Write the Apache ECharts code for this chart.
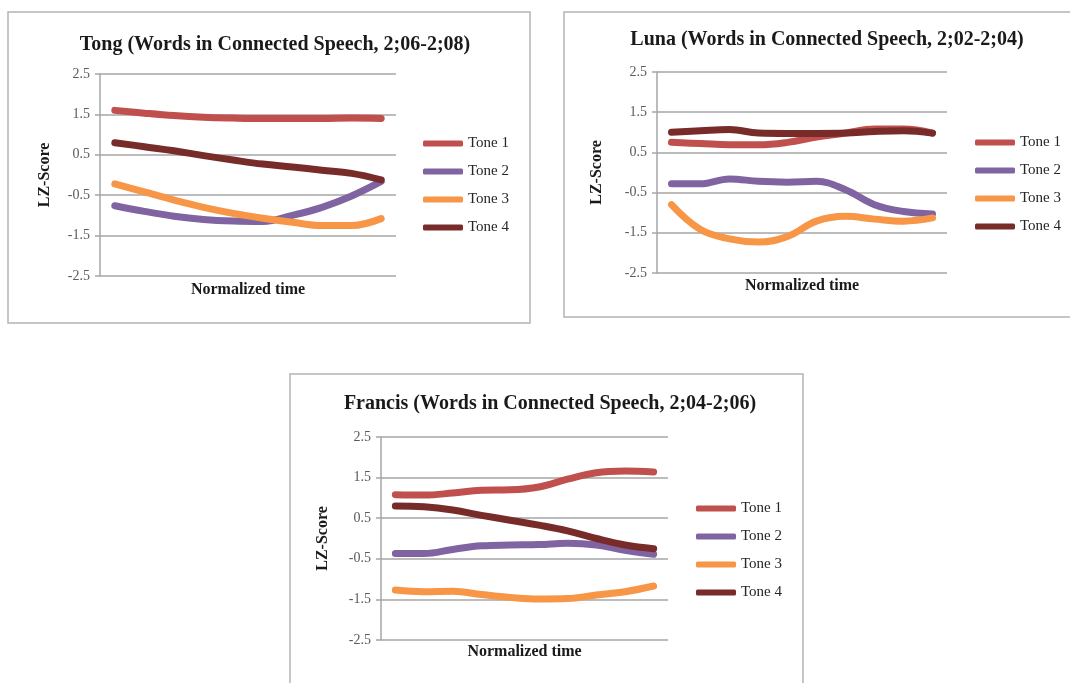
<!DOCTYPE html>
<html>
<head>
<meta charset="utf-8">
<title>LZ-Score by tone</title>
<script src="https://cdn.jsdelivr.net/npm/echarts@6/dist/echarts.min.js"></script>
<style>
    html, body { margin: 0; padding: 0; background: #fff; }
    #main { width: 1070px; height: 683px; }
</style>
</head>
<body>
<div id="main"></div>
<script>
// normalized time steps (10 per contour)
var timeSteps = ['1', '2', '3', '4', '5', '6', '7', '8', '9', '10'];
var toneNames = ['Tone 1', 'Tone 2', 'Tone 3', 'Tone 4'];
var toneColors = ['#c0504d', '#8064a2', '#f79646', '#772c2a'];
var chartTitles = [
    'Tong (Words in Connected Speech, 2;06-2;08)',
    'Luna (Words in Connected Speech, 2;02-2;04)',
    'Francis (Words in Connected Speech, 2;04-2;06)'
];

// Tong
var tongTone1 = [1.60, 1.53, 1.47, 1.43, 1.41, 1.40, 1.40, 1.40, 1.41, 1.40];
var tongTone2 = [-0.76, -0.90, -1.02, -1.10, -1.14, -1.15, -1.00, -0.80, -0.52, -0.16];
var tongTone3 = [-0.22, -0.42, -0.62, -0.80, -0.95, -1.07, -1.17, -1.25, -1.25, -1.08];
var tongTone4 = [0.80, 0.70, 0.60, 0.48, 0.37, 0.27, 0.20, 0.12, 0.04, -0.12];

// Luna
var lunaTone1 = [0.75, 0.72, 0.69, 0.69, 0.75, 0.88, 0.98, 1.08, 1.08, 0.98];
var lunaTone2 = [-0.28, -0.28, -0.16, -0.22, -0.24, -0.22, -0.43, -0.80, -0.97, -1.03];
var lunaTone3 = [-0.80, -1.42, -1.65, -1.73, -1.59, -1.21, -1.09, -1.16, -1.21, -1.13];
var lunaTone4 = [1.00, 1.04, 1.07, 0.98, 0.97, 0.97, 0.98, 1.02, 1.04, 0.98];

// Francis
var francisTone1 = [1.08, 1.07, 1.12, 1.19, 1.20, 1.27, 1.46, 1.62, 1.66, 1.64];
var francisTone2 = [-0.37, -0.37, -0.27, -0.18, -0.16, -0.15, -0.12, -0.16, -0.29, -0.39];
var francisTone3 = [-1.27, -1.31, -1.30, -1.38, -1.45, -1.49, -1.48, -1.39, -1.31, -1.17];
var francisTone4 = [0.80, 0.78, 0.70, 0.57, 0.45, 0.33, 0.19, 0.00, -0.16, -0.25];

var yTickMin = -2.5;
var yTickMax = 2.5;
var yTickStep = 1;

var panelData = [
    [tongTone1, tongTone2, tongTone3, tongTone4],
    [lunaTone1, lunaTone2, lunaTone3, lunaTone4],
    [francisTone1, francisTone2, francisTone3, francisTone4]
];

// layout of the three panels (pixels)
var panels = [
    { box: [8, 12, 522, 311], grid: [100, 74, 296, 202], titleX: 270, titleY: 30, legend: [418, 131], yGap: 47, xGap: 6 },
    { box: [564, 12, 520, 305], grid: [657, 72, 290, 201], titleX: 822, titleY: 25, legend: [970, 130], yGap: 52, xGap: 5 },
    { box: [290, 374, 513, 330], grid: [381, 437, 287, 203], titleX: 545, titleY: 389, legend: [691, 496], yGap: 50, xGap: 4 }
];

var serif = '"Liberation Serif", "DejaVu Serif", serif';

var option = {
    backgroundColor: '#fff',
    animation: false,
    title: [],
    legend: [],
    grid: [],
    xAxis: [],
    yAxis: [],
    series: [],
    graphic: []
};

panels.forEach(function (p, idx) {
    option.graphic.push({
        type: 'rect',
        shape: { x: p.box[0], y: p.box[1], width: p.box[2], height: p.box[3] },
        style: { fill: '#fff', stroke: '#b4b4b4', lineWidth: 1.5 },
        z: -10
    });
    option.title.push({
        text: chartTitles[idx],
        left: p.titleX,
        top: p.titleY,
        textAlign: 'center',
        textStyle: { fontFamily: serif, fontSize: 20, fontWeight: 'bold', color: '#1a1a1a' }
    });
    option.legend.push({
        orient: 'vertical',
        left: p.legend[0],
        top: p.legend[1],
        itemWidth: 40,
        itemHeight: 6,
        itemGap: 13,
        icon: 'roundRect',
        data: toneNames,
        textStyle: { fontFamily: serif, fontSize: 15, color: '#262626' }
    });
    option.grid.push({
        left: p.grid[0], top: p.grid[1], width: p.grid[2], height: p.grid[3],
        containLabel: false
    });
    option.xAxis.push({
        type: 'category',
        gridIndex: idx,
        data: timeSteps,
        boundaryGap: true,
        name: 'Normalized time',
        nameLocation: 'middle',
        nameGap: p.xGap,
        nameTextStyle: { fontFamily: serif, fontSize: 16, fontWeight: 'bold', color: '#1a1a1a', verticalAlign: 'top' },
        axisLine: { show: false },
        axisTick: { show: false },
        axisLabel: { show: false },
        splitLine: { show: false }
    });
    option.yAxis.push({
        type: 'value',
        gridIndex: idx,
        min: yTickMin,
        max: yTickMax,
        interval: yTickStep,
        name: 'LZ-Score',
        nameLocation: 'middle',
        nameGap: p.yGap,
        nameTextStyle: { fontFamily: serif, fontSize: 16, fontWeight: 'bold', color: '#1a1a1a' },
        axisLine: { show: true, lineStyle: { color: '#a6a6a6', width: 1.5 } },
        axisTick: { show: true, length: 5, lineStyle: { color: '#a6a6a6', width: 1.5 } },
        axisLabel: {
            margin: 10,
            fontFamily: serif,
            fontSize: 14,
            color: '#595959',
            formatter: function (v) { return v.toFixed(1); }
        },
        splitLine: { show: true, lineStyle: { color: '#a6a6a6', width: 1.5 } }
    });
    panelData[idx].forEach(function (values, t) {
        option.series.push({
            name: toneNames[t],
            type: 'line',
            xAxisIndex: idx,
            yAxisIndex: idx,
            data: values,
            smooth: 0.4,
            symbol: 'none',
            color: toneColors[t],
            lineStyle: { width: 7, color: toneColors[t], cap: 'round', join: 'round' }
        });
    });
});

var myChart = echarts.init(document.getElementById('main'));
myChart.setOption(option);
</script>
</body>
</html>
